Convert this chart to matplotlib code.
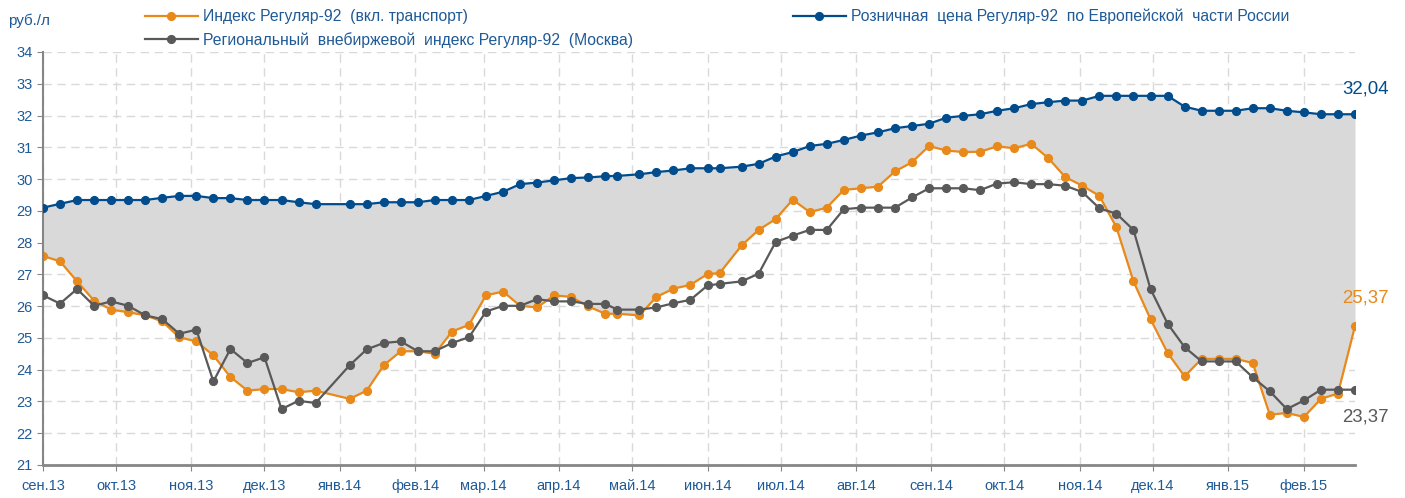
import pandas as pd
import matplotlib
matplotlib.use('Agg')
import matplotlib.pyplot as plt
import matplotlib.dates as mdates
from matplotlib.lines import Line2D

plt.rcParams['font.family'] = ['Liberation Sans', 'DejaVu Sans']

# weekly observations (no quote in the New Year week)
dates = [
    "2013-09-01", "2013-09-08", "2013-09-15", "2013-09-22", "2013-09-29", "2013-10-06",
    "2013-10-13", "2013-10-20", "2013-10-27", "2013-11-03", "2013-11-10", "2013-11-17",
    "2013-11-24", "2013-12-01", "2013-12-08", "2013-12-15", "2013-12-22",
    "2014-01-05", "2014-01-12", "2014-01-19", "2014-01-26", "2014-02-02", "2014-02-09",
    "2014-02-16", "2014-02-23", "2014-03-02", "2014-03-09", "2014-03-16", "2014-03-23",
    "2014-03-30", "2014-04-06", "2014-04-13", "2014-04-20", "2014-04-25", "2014-05-04",
    "2014-05-11", "2014-05-18", "2014-05-25", "2014-06-01", "2014-06-06", "2014-06-15",
    "2014-06-22", "2014-06-29", "2014-07-06", "2014-07-13", "2014-07-20", "2014-07-27",
    "2014-08-03", "2014-08-10", "2014-08-17", "2014-08-24", "2014-08-31", "2014-09-07",
    "2014-09-14", "2014-09-21", "2014-09-28", "2014-10-05", "2014-10-12", "2014-10-19",
    "2014-10-26", "2014-11-02", "2014-11-09", "2014-11-16", "2014-11-23", "2014-11-30",
    "2014-12-07", "2014-12-14", "2014-12-21", "2014-12-28", "2015-01-04", "2015-01-11",
    "2015-01-18", "2015-01-25", "2015-02-01", "2015-02-08", "2015-02-15", "2015-02-22",
]

retail = [
    29.10, 29.22, 29.34, 29.34, 29.34, 29.34, 29.34, 29.41, 29.47, 29.47, 29.40, 29.40,
    29.34, 29.34, 29.34, 29.27, 29.21,
    29.21, 29.21, 29.27, 29.27, 29.27, 29.34, 29.34, 29.34, 29.47, 29.60, 29.84, 29.89,
    29.96, 30.03, 30.05, 30.09, 30.10, 30.15, 30.22, 30.27,
    30.34, 30.34, 30.34, 30.39, 30.48, 30.71, 30.85, 31.04, 31.11, 31.23, 31.37, 31.47,
    31.60, 31.67, 31.74, 31.93, 31.99, 32.04, 32.15,
    32.23, 32.36, 32.42, 32.47, 32.47, 32.62, 32.62, 32.62, 32.62, 32.62, 32.28, 32.15,
    32.15, 32.15, 32.23, 32.23, 32.15, 32.10, 32.04, 32.04, 32.04,
]

index92 = [
    27.58, 27.41, 26.78, 26.17, 25.89, 25.81, 25.71, 25.52, 25.02, 24.89, 24.45, 23.77,
    23.34, 23.39, 23.39, 23.29, 23.34,
    23.08, 23.34, 24.14, 24.58, 24.58, 24.50, 25.20, 25.41, 26.34, 26.46, 26.01, 25.96,
    26.34, 26.29, 25.99, 25.76, 25.76, 25.71, 26.29, 26.55,
    26.67, 27.01, 27.04, 27.91, 28.40, 28.74, 29.35, 28.96, 29.10, 29.66, 29.71, 29.76,
    30.24, 30.53, 31.04, 30.90, 30.85, 30.86, 31.03,
    30.97, 31.11, 30.66, 30.06, 29.79, 29.47, 28.48, 26.78, 25.59, 24.53, 23.79, 24.34,
    24.34, 24.34, 24.21, 22.58, 22.64, 22.51, 23.08, 23.25, 25.37,
]

moscow = [
    26.34, 26.08, 26.54, 26.01, 26.15, 26.01, 25.71, 25.59, 25.13, 25.26, 23.63, 24.65,
    24.21, 24.39, 22.76, 23.02, 22.95,
    24.14, 24.64, 24.84, 24.89, 24.58, 24.58, 24.84, 25.02, 25.83, 26.01, 26.01, 26.22,
    26.15, 26.15, 26.07, 26.07, 25.89, 25.89, 25.96, 26.09,
    26.20, 26.65, 26.70, 26.78, 27.02, 28.02, 28.22, 28.40, 28.40, 29.05, 29.10, 29.10,
    29.10, 29.42, 29.71, 29.71, 29.71, 29.65, 29.86,
    29.90, 29.84, 29.84, 29.79, 29.59, 29.08, 28.91, 28.40, 26.54, 25.45, 24.71, 24.26,
    24.26, 24.26, 23.76, 23.32, 22.76, 23.03, 23.37, 23.37, 23.37,
]

month_names = ["янв", "фев", "мар", "апр", "май", "июн",
               "июл", "авг", "сен", "окт", "ноя", "дек"]

labels = ["Индекс Регуляр-92  (вкл. транспорт)",
          "Региональный  внебиржевой  индекс Регуляр-92  (Москва)",
          "Розничная  цена Регуляр-92  по Европейской  части России"]

BLUE = "#004C8C"
ORANGE = "#E8891A"
GREY = "#595959"
TXT = "#1F5A96"

x = pd.to_datetime(dates)

fig = plt.figure(figsize=(14.05, 4.98), dpi=100)
ax = fig.add_axes([0.0306, 0.0663, 0.9338, 0.8293])

ax.fill_between(x, index92, retail, color="#D9D9D9", lw=0, zorder=1)
ax.plot(x, retail, color=BLUE, lw=1.6, marker="o", ms=5.6, zorder=4)
ax.plot(x, moscow, color=GREY, lw=1.6, marker="o", ms=5.6, zorder=3)
ax.plot(x, index92, color=ORANGE, lw=1.6, marker="o", ms=5.6, zorder=2)

ax.set_xlim(x[0], x[-1])
ax.set_ylim(21, 34)
ax.set_yticks(range(21, 35))

ax.xaxis.set_major_locator(mdates.MonthLocator())
ax.xaxis.set_major_formatter(plt.FuncFormatter(
    lambda v, p: f"{month_names[mdates.num2date(v).month - 1]}.{mdates.num2date(v).year % 100:02d}"))

ax.grid(True, color="#D9D9D9", lw=1, linestyle=(0, (6, 4)), zorder=0)
ax.set_axisbelow(True)
for s in ["top", "right"]:
    ax.spines[s].set_visible(False)
ax.spines["left"].set_color("#868686")
ax.spines["left"].set_linewidth(1.5)
ax.spines["bottom"].set_color("#868686")
ax.spines["bottom"].set_linewidth(2)
ax.tick_params(axis="both", colors="#868686", labelcolor=TXT, labelsize=10.5, length=4)
ax.tick_params(axis="x", pad=6)

fig.text(8 / 1405, 1 - 21 / 498, "руб./л", color=TXT, fontsize=11, va="center")

ax.annotate("32,04", (x[-1], retail[-1]), xytext=(24, 18), textcoords="offset points",
            color=BLUE, fontsize=13.4, ha="right", va="center")
ax.annotate("25,37", (x[-1], index92[-1]), xytext=(24, 20), textcoords="offset points",
            color=ORANGE, fontsize=13.4, ha="right", va="center")
ax.annotate("23,37", (x[-1], moscow[-1]), xytext=(24, -19.5), textcoords="offset points",
            color=GREY, fontsize=13.4, ha="right", va="center")
for t in ax.texts:
    t.set_clip_on(False)

handles = [Line2D([], [], color=ORANGE, lw=1.6, marker="o", ms=5.6),
           Line2D([], [], color=GREY, lw=1.6, marker="o", ms=5.6),
           Line2D([], [], color=BLUE, lw=1.6, marker="o", ms=5.6)]
leg = fig.legend(handles, labels, ncol=2, loc="upper left",
                 bbox_to_anchor=(136 / 1405, 1.0), frameon=False,
                 fontsize=11.3, handlelength=3.4, handletextpad=0.3,
                 columnspacing=10.2, labelspacing=0.5, borderaxespad=0.15)
for t in leg.get_texts():
    t.set_color(TXT)

fig.savefig("out.png", dpi=100)
